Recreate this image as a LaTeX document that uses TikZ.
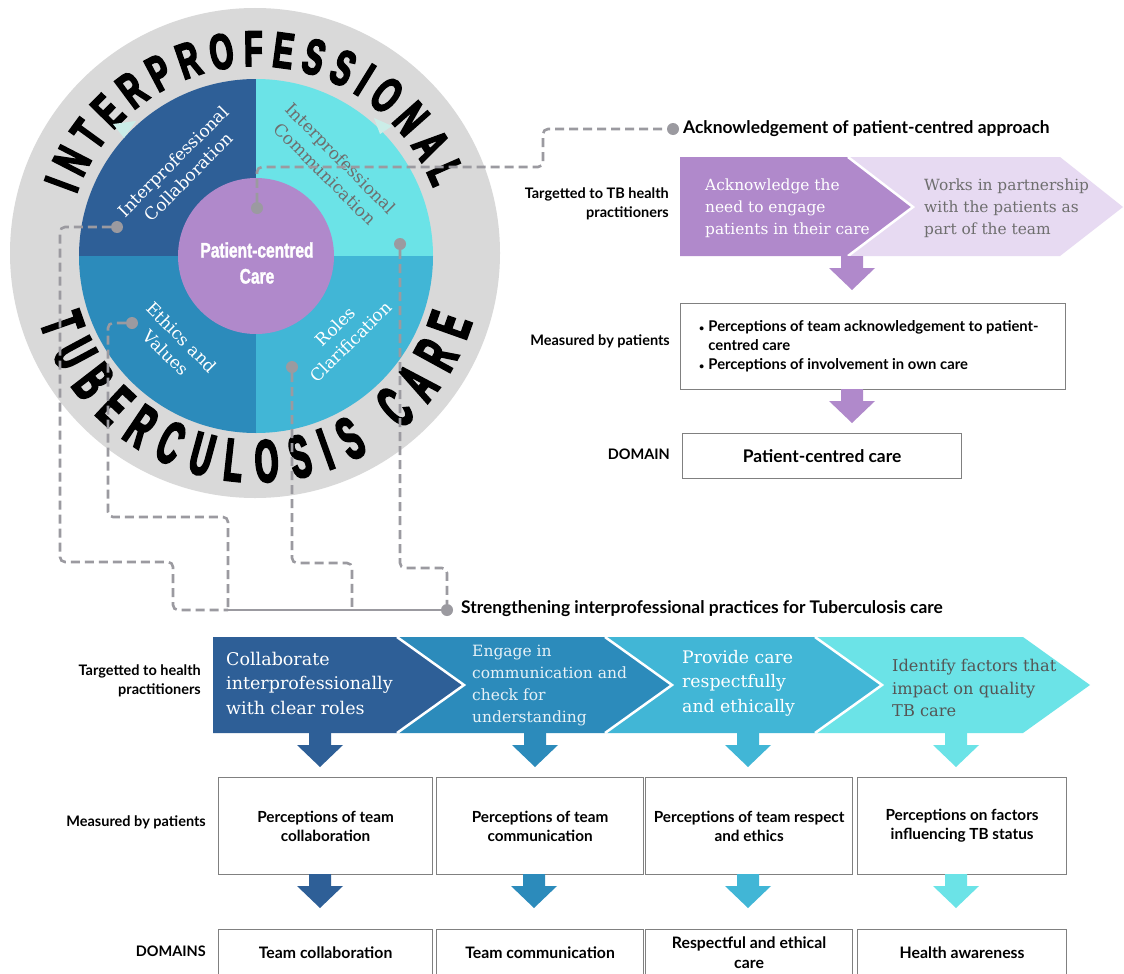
\documentclass[tikz,border=0pt]{standalone}
\usepackage{fontspec}
\setmainfont{Lato}
\newfontfamily\slabface{DejaVu Serif}
\newfontfamily\topringface[FakeStretch=0.6,FakeBold=3.5]{Liberation Sans}
\newfontfamily\botringface[FakeStretch=0.5,FakeBold=3.5]{Liberation Sans}
\newfontfamily\hubface[FakeStretch=0.74,FakeBold=1.5]{Liberation Sans}
\usetikzlibrary{decorations.text}

\definecolor{qdark}{HTML}{2E5F97}
\definecolor{qmid}{HTML}{2C8BBB}
\definecolor{qlight}{HTML}{41B6D6}
\definecolor{qcyan}{HTML}{6BE3E7}
\definecolor{pcc}{HTML}{B089CB}
\definecolor{lav}{HTML}{E7DAF2}
\definecolor{ringgrey}{HTML}{D9D9D9}
\definecolor{linkgrey}{HTML}{9B9AA0}
\definecolor{boxgrey}{HTML}{808080}
\definecolor{greytext}{HTML}{6E6E6E}
\definecolor{darktext}{HTML}{555555}
\definecolor{mint}{HTML}{CBEDE8}

\newcommand{\smallbullet}{{\fontsize{9}{9}\selectfont\textbullet}\hspace{4pt}}

\tikzset{
  link/.style={draw=linkgrey, line width=2.6pt, dash pattern=on 9pt off 5pt, rounded corners=5pt},
  trunk/.style={draw=linkgrey, line width=2.6pt},
  dot/.style={circle, fill=linkgrey, inner sep=0pt, minimum size=12pt},
  rowlabel/.style={font=\bfseries\fontsize{14.5}{19}\selectfont, align=right, anchor=east, inner sep=0pt},
  heading/.style={font=\bfseries\fontsize{17.4}{20}\selectfont, anchor=west, inner sep=0pt},
  infobox/.style={draw=boxgrey, line width=1.2pt, fill=white, inner sep=0pt, anchor=north west},
  boxtext/.style={font=\bfseries\fontsize{15.3}{19}\selectfont, align=center},
  domaintext/.style={font=\bfseries\fontsize{15.8}{20}\selectfont, align=center},
  slabtext/.style 2 args={font=\slabface\fontsize{#1}{#2}\selectfont, align=left, anchor=west, inner sep=0pt},
  quad/.style={font=\slabface\fontsize{17}{22}\selectfont, align=center, inner sep=0pt},
  sep/.style={draw=white, line width=2.5pt},
  dnarrow/.pic={\fill[#1] (-11,0) -- (11,0) -- (11,12) -- (23,12) -- (0,34) -- (-23,12) -- (-11,12) -- cycle;},
}

\begin{document}
\begin{tikzpicture}[x=1pt, y=-1pt]
\fill[white] (0,0) rectangle (1124,974);
\useasboundingbox (0,0) rectangle (1124,974);

% ---------- emblem ----------
\begin{scope}[shift={(256,256)}, y=1pt]
  \fill[ringgrey] (-1,3) circle[radius=245];
  \fill[qdark]  (0,0) -- (-177,0) arc[start angle=180, end angle=90, radius=177] -- cycle;
  \fill[qcyan]  (0,0) -- (0,177) arc[start angle=90, end angle=0, radius=177] -- cycle;
  \fill[qmid]   (0,0) -- (-177,0) arc[start angle=180, end angle=270, radius=177] -- cycle;
  \fill[qlight] (0,0) -- (177,0) arc[start angle=0, end angle=-90, radius=177] -- cycle;
  \path[decorate, decoration={text along path, text align={fit to path},
      text={|\topringface\bfseries\fontsize{50}{50}\selectfont|INTERPROFESSIONAL}}]
      (161:190) arc[start angle=161, end angle=21, radius=190];
  \path[decorate, decoration={text along path, text align={fit to path},
      text={|\botringface\bfseries\fontsize{60}{60}\selectfont|TUBERCULOSIS CARE}}]
      (197:226) arc[start angle=197, end angle=343, radius=226];
\end{scope}

\fill[mint] (113,124) -- (136,121) -- (124,138) -- cycle;
\fill[mint] (374,118) -- (392,126) -- (380,134) -- cycle;

\node[circle, fill=pcc, minimum size=156pt, inner sep=0pt] (hub) at (256,256) {};
\node[font=\hubface\bfseries\fontsize{21}{26}\selectfont, text=white, align=center, inner sep=0pt] (hubtext) at (257,263) {Patient-centred\\Care};

\node[quad, rotate=45, text=white] (qcol) at (181,169) {Interprofessional\\Collaboration};
\node[quad, rotate=-45, text=greytext] (qcom) at (333,166) {Interprofessional\\Communication};
\node[quad, rotate=-45, text=white] (qeth) at (174,345) {Ethics and\\Values};
\node[quad, rotate=45, text=white] (qrol) at (343,334) {Roles\\Clarification};

% ---------- link dots ----------
\node[dot] (dhub) at (257,208) {};
\node[dot] (dcol) at (117,227) {};
\node[dot] (dcom) at (400,244) {};
\node[dot] (deth) at (132,323) {};
\node[dot] (drol) at (292,367) {};
\node[dot] (dack) at (673,129) {};
\node[dot] (dstr) at (447,610) {};
\coordinate (jmain) at (228,610);
\coordinate (jrol) at (352,610);

% ---------- headings ----------
\node[heading] (hack) at (683,129) {Acknowledgement of patient-centred approach};
\node[heading] (hstr) at (461,609) {Strengthening interprofessional practices for Tuberculosis care};

% ---------- connectors ----------
\draw[link] (dhub) |- (543,167) |- (dack);
\draw[link] (dcol) -| (60,562) -| (173,610) -- (jmain);
\draw[link] (deth) -| (108,517) -| (jmain);
\draw[link] (drol) |- (352,563) -- (jrol);
\draw[link] (dcom) |- (447,568) -- (dstr);
\draw[trunk] (jmain) -- (dstr);

% ---------- patient-centred pathway ----------
\fill[pcc] (680,157) -- (848,157) -- (913,207) -- (848,256) -- (680,256) -- cycle;
\fill[lav] (848,157) -- (1060,157) -- (1123,207) -- (1060,256) -- (848,256) -- (913,207) -- cycle;
\draw[sep] (848,157) -- (913,207) -- (848,256);
\node[slabtext={15.4}{22}, text=white] (ack1) at (705,208) {Acknowledge the\\need to engage\\patients in their care};
\node[slabtext={15.4}{22}, text=greytext] (ack2) at (924,208) {Works in partnership\\with the patients as\\part of the team};

\node[rowlabel] (lt1) at (669,204) {Targetted to TB health\\practitioners};
\node[rowlabel] (lm1) at (670,341) {Measured by patients};
\node[rowlabel] (ld1) at (670,454) {DOMAIN};

\pic at (852,256) {dnarrow=pcc};
\node[infobox, minimum width=385pt, minimum height=86pt] (mpcc) at (680,303) {};
\node[font=\bfseries\fontsize{14.8}{19}\selectfont, align=left, anchor=west, inner sep=0pt] (mpcctext) at (699,346)
  {\smallbullet Perceptions of team acknowledgement to patient-\\
   \hphantom{\smallbullet}centred care\\
   \smallbullet Perceptions of involvement in own care};
\pic at (852,389) {dnarrow=pcc};
\node[infobox, minimum width=279pt, minimum height=45pt, font=\bfseries\fontsize{17.4}{20}\selectfont] (dpcc) at (682,433) {Patient-centred care};

% ---------- interprofessional pathway ----------
\fill[qdark]  (213,637) -- (397,637) -- (464,685) -- (397,733) -- (213,733) -- cycle;
\fill[qmid]   (397,637) -- (605,637) -- (672,685) -- (605,733) -- (397,733) -- (464,685) -- cycle;
\fill[qlight] (605,637) -- (815,637) -- (882,685) -- (815,733) -- (605,733) -- (672,685) -- cycle;
\fill[qcyan]  (815,637) -- (1023,637) -- (1090,685) -- (1023,733) -- (815,733) -- (882,685) -- cycle;
\draw[sep] (397,637) -- (464,685) -- (397,733);
\draw[sep] (605,637) -- (672,685) -- (605,733);
\draw[sep] (815,637) -- (882,685) -- (815,733);

\node[slabtext={17.5}{24.5}, text=white] (c1) at (226,683) {Collaborate\\interprofessionally\\with clear roles};
\node[slabtext={15.5}{22}, text=white!88!qmid] (c2) at (472,686) {Engage in\\communication and\\check for\\understanding};
\node[slabtext={17.3}{24.5}, text=white] (c3) at (682,683) {Provide care\\respectfully\\and ethically};
\node[slabtext={16.2}{22.5}, text=darktext] (c4) at (892,688) {Identify factors that\\impact on quality\\TB care};

\node[rowlabel] (lt2) at (201,681) {Targetted to health\\practitioners};
\node[rowlabel] (lm2) at (206,822) {Measured by patients};
\node[rowlabel] (ld2) at (206,951) {DOMAINS};

\pic at (320,733) {dnarrow=qdark};
\pic at (535,733) {dnarrow=qmid};
\pic at (748,733) {dnarrow=qlight};
\pic at (956,733) {dnarrow=qcyan};

\node[infobox, boxtext, minimum width=214pt, minimum height=97pt] (m1) at (218,777) {Perceptions of team\\collaboration};
\node[infobox, boxtext, minimum width=207pt, minimum height=97pt] (m2) at (436,777) {Perceptions of team\\communication};
\node[infobox, boxtext, minimum width=207pt, minimum height=97pt] (m3) at (645,777) {Perceptions of team respect\\and ethics};
\node[infobox, boxtext, minimum width=209pt, minimum height=97pt] (m4) at (857,777) {Perceptions on factors\\influencing TB status};

\pic at (320,874) {dnarrow=qdark};
\pic at (534,874) {dnarrow=qmid};
\pic at (748,874) {dnarrow=qlight};
\pic at (956,874) {dnarrow=qcyan};

\node[infobox, domaintext, minimum width=214pt, minimum height=46pt] (d1) at (218,929) {Team collaboration};
\node[infobox, domaintext, minimum width=207pt, minimum height=46pt] (d2) at (436,929) {Team communication};
\node[infobox, domaintext, minimum width=207pt, minimum height=46pt] (d3) at (645,929) {Respectful and ethical\\care};
\node[infobox, domaintext, minimum width=209pt, minimum height=46pt] (d4) at (857,929) {Health awareness};
\end{tikzpicture}
\end{document}
